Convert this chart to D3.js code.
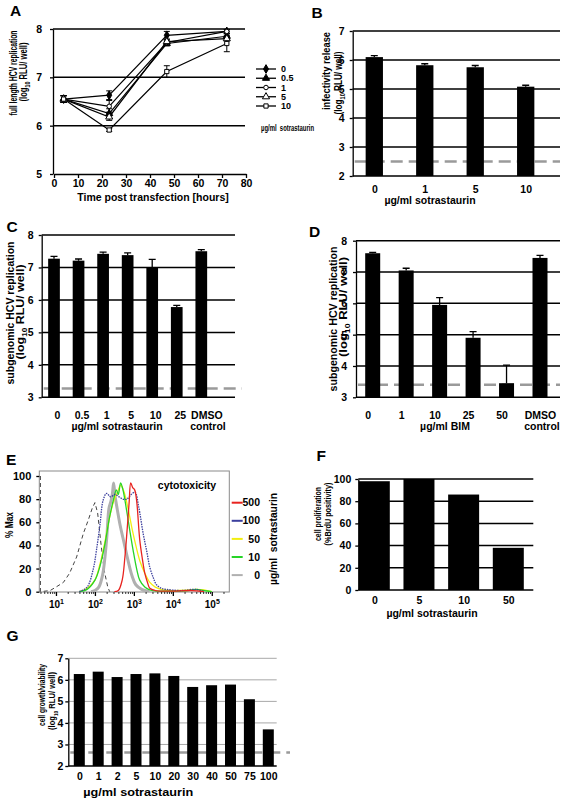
<!DOCTYPE html>
<html><head><meta charset="utf-8">
<script src="https://cdn.jsdelivr.net/npm/d3@7/dist/d3.min.js"></script>
<style>
body{margin:0;background:#fff}
svg{display:block}
text{font-family:"Liberation Sans",Arial,sans-serif;font-weight:bold;fill:#000;font-size:10.5px}
</style></head>
<body><svg id="chart" width="563" height="800"></svg>
<script>
// ---------- Panel A data ----------
const aHours = [4, 23, 47, 72];
const aDoses = ["0", "0.5", "1", "5", "10"];
const aDose0 = [6.55, 6.63, 7.87, 7.95];
const aDose05 = [6.55, 6.25, 7.70, 7.85];
const aDose1 = [6.55, 6.40, 7.72, 7.95];
const aDose5 = [6.55, 6.18, 7.74, 7.80];
const aDose10 = [6.55, 5.91, 7.12, 7.70];
const aErr0 = [0.07, 0.09, 0.08, 0.04];
const aErr05 = [0.07, 0.10, 0.05, 0.05];
const aErr1 = [0.07, 0.12, 0.05, 0.04];
const aErr5 = [0.07, 0.07, 0.05, 0.05];
const aErr10 = [0.07, 0.03, 0.12, 0.17];
const aYTicks = [5, 6, 7, 8];
const aXTicks = [0, 10, 20, 30, 40, 50, 60, 70, 80];

// ---------- Panel B data ----------
const bCats = ["0", "1", "5", "10"];
const bVals = [6.10, 5.82, 5.75, 5.08];
const bErrs = [0.05, 0.05, 0.06, 0.05];
const bTicks = [2, 3, 4, 5, 6, 7];
const bLimit = 2.5;

// ---------- Panel C data ----------
const cCats = ["0", "0.5", "1", "5", "10", "25", "DMSO"];
const cVals = [7.27, 7.21, 7.42, 7.38, 7.00, 5.78, 7.50];
const cErrs = [0.07, 0.05, 0.05, 0.07, 0.25, 0.05, 0.05];
const cTicks = [3, 4, 5, 6, 7, 8];
const cLimit = 3.27;

// ---------- Panel D data ----------
const dCats = ["0", "1", "10", "25", "50", "DMSO"];
const dVals = [7.60, 7.05, 5.95, 4.90, 3.45, 7.45];
const dErrs = [0.03, 0.07, 0.23, 0.20, 0.58, 0.08];
const dTicks = [3, 4, 5, 6, 7, 8];
const dLimit = 3.4;

// ---------- Panel E data (log10 fluorescence, % of max) ----------
const eDoses = ["500", "100", "50", "10", "0"];
const eColors = ["#e8231f", "#3b3f9e", "#f2ee10", "#27d427", "#b0b0b0"];
const eUnstLog = [0.60, 0.60, 0.85, 1.00, 1.19, 1.35, 1.53, 1.70, 1.83, 1.93, 2.00, 2.07, 2.16, 2.24, 2.33, 2.38];
const eUnstPct = [100, 0, 1, 4, 8, 16, 30, 50, 62, 72, 77, 68, 40, 18, 4, 0];
const e0Log = [1.90, 2.00, 2.10, 2.20, 2.30, 2.36, 2.41, 2.45, 2.48, 2.52, 2.58, 2.65, 2.75, 2.85, 2.95, 3.05, 3.20, 3.40];
const e0Pct = [0, 1, 4, 15, 45, 72, 78, 85, 94, 82, 70, 57, 42, 27, 14, 6, 2, 0];
const e10Log = [1.60, 1.80, 2.00, 2.13, 2.25, 2.38, 2.48, 2.55, 2.60, 2.66, 2.72, 2.81, 2.90, 2.98, 3.07, 3.15, 3.28, 3.41, 3.60, 4.00, 4.40, 4.60, 4.80, 5.00];
const e10Pct = [0, 2, 10, 22, 40, 65, 80, 88, 84, 94, 88, 71, 52, 36, 20, 10, 4, 1.5, 0.5, 0.5, 1, 2, 1, 0];
const e50Log = [1.60, 1.80, 2.00, 2.13, 2.25, 2.40, 2.50, 2.58, 2.66, 2.75, 2.85, 2.95, 3.05, 3.15, 3.28, 3.41, 3.55, 3.70, 4.00, 4.40, 4.60, 4.80, 5.00];
const e50Pct = [0, 3, 10, 24, 42, 68, 80, 86, 92, 86, 72, 55, 40, 27, 16, 8, 4, 2, 1, 1.5, 2, 1.5, 0];
const e100Log = [1.60, 1.80, 1.96, 2.04, 2.13, 2.21, 2.30, 2.40, 2.51, 2.62, 2.72, 2.82, 2.93, 3.03, 3.12, 3.24, 3.33, 3.41, 3.50, 3.58, 3.70, 3.84, 4.20, 4.60, 4.80];
const e100Pct = [0, 4, 20, 36, 58, 79, 85, 82, 84, 82, 80, 80, 84, 86, 74, 50, 35, 21, 12, 6, 3, 2, 1, 2, 0];
const e500Log = [2.50, 2.60, 2.70, 2.77, 2.83, 2.88, 2.92, 2.97, 3.02, 3.07, 3.15, 3.22, 3.28, 3.35, 3.41, 3.55, 3.70, 4.00, 4.50, 4.80];
const e500Pct = [0, 1, 10, 30, 55, 78, 94, 90, 88, 79, 45, 28, 16, 8, 3, 1, 0.5, 0.5, 1, 0];
const eYTicks = [0, 20, 40, 60, 80, 100];
const eXDecades = [1, 2, 3, 4, 5];

// ---------- Panel F data ----------
const fCats = ["0", "5", "10", "50"];
const fVals = [98, 100, 86, 38];
const fTicks = [0, 20, 40, 60, 80, 100];

// ---------- Panel G data ----------
const gCats = ["0", "1", "2", "5", "10", "20", "30", "40", "50", "75", "100"];
const gVals = [6.27, 6.38, 6.13, 6.27, 6.30, 6.18, 5.67, 5.75, 5.78, 5.10, 3.70];
const gTicks = [2, 3, 4, 5, 6, 7];
const gLimit = 2.63;

// ================= drawing =================
const svg = d3.select("#chart");

function letter(t, x, y) {
  svg.append("text").attr("x", x).attr("y", y).style("font-size", "15.5px").text(t);
}
function logLabel(t, sub) {
  t.append("tspan").text("(log");
  t.append("tspan").style("font-size", sub + "px").attr("dy", 3).text("10");
  t.append("tspan").attr("dy", -3).text(" RLU/ well)");
}
function vText(cx, cy, content, len, fs) {
  const size = fs || 10.5;
  const t = svg.append("text")
    .attr("transform", `translate(${cx},${cy}) rotate(-90)`)
    .attr("text-anchor", "middle").attr("dy", "0.35em").style("font-size", size + "px");
  if (content === "LOG") logLabel(t, Math.round(size * 0.68)); else t.text(content);
  if (len) t.attr("textLength", len).attr("lengthAdjust", "spacingAndGlyphs");
  return t;
}
function hText(x, y, s, anchor, len) {
  const t = svg.append("text").attr("x", x).attr("y", y).attr("dy", "0.35em")
    .attr("text-anchor", anchor || "middle").style("white-space", "pre").text(s);
  if (len) t.attr("textLength", len).attr("lengthAdjust", "spacingAndGlyphs");
  return t;
}
function styleAxis(g) {
  g.selectAll(".domain, .tick line").attr("stroke", "#000").attr("stroke-width", 1.3);
  g.attr("font-size", null).attr("font-family", null);
}

function barPanel(c) {
  const y = d3.scaleLinear().domain(c.domain).range([c.bottom, c.top]);
  const x = d3.scalePoint().domain(c.cats).range([c.c0, c.c1]);
  const g = svg.append("g");
  g.selectAll("line.grid").data(c.ticks.slice(1)).join("line").attr("class", "grid")
    .attr("x1", c.left).attr("x2", c.right)
    .attr("y1", d => y(d)).attr("y2", d => y(d))
    .attr("stroke", c.gridColor || "#000").attr("stroke-width", c.gridWidth || 1.5);
  if (c.limit !== undefined) {
    g.append("line").attr("x1", c.left + 2).attr("x2", c.dashEnd)
      .attr("y1", y(c.limit)).attr("y2", y(c.limit))
      .attr("stroke", "#9a9a9a").attr("stroke-width", 2.6).attr("stroke-dasharray", "12,6");
  }
  g.selectAll("rect").data(c.vals).join("rect")
    .attr("x", (d, i) => x(c.cats[i]) - c.bw / 2).attr("width", c.bw)
    .attr("y", d => y(d)).attr("height", d => y(c.domain[0]) - y(d)).attr("fill", "#000");
  if (c.errs) {
    g.selectAll("path.err").data(c.vals).join("path").attr("class", "err")
      .attr("d", (d, i) => {
        const cx = x(c.cats[i]), t = y(d + c.errs[i]);
        return `M${cx},${y(d)}V${t}M${cx - 3.5},${t}H${cx + 3.5}`;
      })
      .attr("stroke", "#000").attr("stroke-width", 1.3).attr("fill", "none");
  }
  const ya = g.append("g").attr("transform", `translate(${c.left},0)`)
    .call(d3.axisLeft(y).tickValues(c.ticks).tickSize(3).tickSizeOuter(0).tickPadding(c.ypad).tickFormat(d3.format("d")));
  styleAxis(ya);
  g.append("line").attr("x1", c.left).attr("x2", c.right).attr("y1", c.bottom).attr("y2", c.bottom)
    .attr("stroke", "#000").attr("stroke-width", 1.5);
  const xa = g.append("g").attr("transform", `translate(${c.xshift || 0},${c.bottom})`)
    .call(d3.axisBottom(x).tickSize(0).tickPadding(c.xpad));
  xa.select(".domain").remove();
  styleAxis(xa);
  if (c.lastShift) xa.selectAll(".tick text").filter(d => d === "DMSO").attr("dx", c.lastShift);
  return { x, y };
}

// ----- Panel A -----
letter("A", 10, 15.5);
{
  const x = d3.scaleLinear().domain([0, 80]).range([54, 246]);
  const y = d3.scaleLinear().domain([5, 8]).range([174, 29]);
  const g = svg.append("g");
  g.selectAll("line.grid").data(aYTicks.slice(1)).join("line")
    .attr("x1", 53).attr("x2", 245).attr("y1", d => y(d)).attr("y2", d => y(d))
    .attr("stroke", "#000").attr("stroke-width", 1.5);
  const ya = g.append("g").attr("transform", "translate(53,0)")
    .call(d3.axisLeft(y).tickValues(aYTicks).tickSize(3).tickSizeOuter(0).tickPadding(8).tickFormat(d3.format("d")));
  styleAxis(ya);
  const xa = g.append("g").attr("transform", "translate(0,174)")
    .call(d3.axisBottom(x).tickValues(aXTicks).tickSize(4).tickSizeOuter(0).tickPadding(2));
  styleAxis(xa);
  const series = [
    { vals: aDose0, errs: aErr0, sym: d3.symbolDiamond, fill: "#000", size: 22 },
    { vals: aDose05, errs: aErr05, sym: d3.symbolTriangle, fill: "#000", size: 22 },
    { vals: aDose1, errs: aErr1, sym: d3.symbolCircle, fill: "#fff", size: 16 },
    { vals: aDose5, errs: aErr5, sym: d3.symbolTriangle, fill: "#fff", size: 22 },
    { vals: aDose10, errs: aErr10, sym: d3.symbolSquare, fill: "#fff", size: 18 }
  ];
  const line = d3.line().x((d, i) => x(aHours[i])).y(d => y(d));
  series.forEach(s => {
    g.append("path").attr("d", line(s.vals)).attr("fill", "none").attr("stroke", "#000").attr("stroke-width", 1.2);
  });
  series.forEach(s => {
    g.selectAll(null).data(s.vals).join("path")
      .attr("d", (d, i) => {
        const cx = x(aHours[i]), t = y(d + s.errs[i]), b = y(d - s.errs[i]);
        return `M${cx},${b}V${t}M${cx - 3},${t}H${cx + 3}M${cx - 3},${b}H${cx + 3}`;
      }).attr("stroke", "#000").attr("stroke-width", 1).attr("fill", "none");
  });
  series.forEach(s => {
    g.selectAll(null).data(s.vals).join("path")
      .attr("transform", (d, i) => `translate(${x(aHours[i])},${y(d)})`)
      .attr("d", d3.symbol().type(s.sym).size(s.size))
      .attr("fill", s.fill).attr("stroke", "#000").attr("stroke-width", 1);
  });
  // legend
  series.forEach((s, i) => {
    const ly = 69 + i * 9.25;
    g.append("line").attr("x1", 256).attr("x2", 276).attr("y1", ly).attr("y2", ly).attr("stroke", "#000").attr("stroke-width", 1.3);
    g.append("path").attr("transform", `translate(266,${ly})`).attr("d", d3.symbol().type(s.sym).size(s.size))
      .attr("fill", s.fill).attr("stroke", "#000").attr("stroke-width", 1);
    hText(281, ly, aDoses[i], "start").style("font-size", "9px");
  });
  hText(261, 128, "µg/ml  sotrastaurin", "start", 53).style("font-size", "9.5px");
  hText(153, 197, "Time post transfection [hours]");
  vText(13, 73, "full length HCV replication", 85, 10);
  vText(23, 72, "LOG", 59, 10);
}

// ----- Panel B -----
letter("B", 311.5, 18);
barPanel({ cats: bCats, vals: bVals, errs: bErrs, ticks: bTicks, domain: [2, 7],
  left: 352.7, right: 560, top: 31, bottom: 176, c0: 374.3, c1: 525.7, bw: 17.3,
  limit: bLimit, dashEnd: 560, ypad: 5, xpad: 10 });
hText(430, 200.5, "µg/ml sotrastaurin");
vText(326, 71, "infectivity release", 78, 10);
vText(338, 83, "LOG", 63, 10);

// ----- Panel C -----
letter("C", 6.5, 231.5);
barPanel({ cats: cCats, vals: cVals, errs: cErrs, ticks: cTicks, domain: [3, 8],
  left: 41.7, right: 235, top: 235, bottom: 397.3, c0: 54, c1: 201.3, bw: 11.7,
  limit: cLimit, dashEnd: 242, ypad: 5, xpad: 14, xshift: 3, lastShift: 2 });
hText(117, 426, "µg/ml sotrastaurin");
hText(208, 426, "control");
vText(10, 313, "subgenomic HCV replication", 143);
vText(20, 312, "LOG", 95);

// ----- Panel D -----
letter("D", 309, 237.3);
barPanel({ cats: dCats, vals: dVals, errs: dErrs, ticks: dTicks, domain: [3, 8],
  left: 356, right: 560, top: 240.7, bottom: 397.3, c0: 372.7, c1: 540, bw: 15,
  limit: dLimit, dashEnd: 560, ypad: 6, xpad: 14, xshift: -5, lastShift: 5 });
hText(445, 426, "µg/ml BIM");
hText(542, 426, "control");
vText(333.5, 319, "subgenomic HCV replication", 145);
vText(343, 307, "LOG", 100);

// ----- Panel E -----
letter("E", 6, 465);
{
  const L = 39.3, R = 229.3, T = 471, B = 592;
  const x = d3.scaleLog().domain([Math.pow(10, 0.572), Math.pow(10, 5.45)]).range([L, R]);
  const y = d3.scaleLinear().domain([0, 100]).range([591.7, 476]);
  const g = svg.append("g");
  g.append("clipPath").attr("id", "eclip").append("rect").attr("x", L).attr("y", T).attr("width", R - L).attr("height", B - T);
  g.append("rect").attr("x", L).attr("y", T).attr("width", R - L).attr("height", B - T)
    .attr("fill", "none").attr("stroke", "#8a8a8a").attr("stroke-width", 1);
  const ya = g.append("g").attr("transform", `translate(${L},0)`)
    .call(d3.axisLeft(y).tickValues(eYTicks).tickSize(3).tickSizeOuter(0).tickPadding(5));
  ya.select(".domain").remove();
  styleAxis(ya);
  ya.selectAll("text").style("font-size", "11px");
  const minor = [];
  for (let p = 0; p <= 5; p++) for (let k = 2; k <= 9; k++) {
    const v = k * Math.pow(10, p);
    if (v > x.domain()[0] && v < x.domain()[1]) minor.push(v);
  }
  const xm = g.append("g").attr("transform", `translate(0,${B})`)
    .call(d3.axisBottom(x).tickValues(minor).tickSize(2).tickFormat(""));
  xm.select(".domain").remove();
  styleAxis(xm);
  xm.selectAll(".tick line").attr("stroke-width", 0.8);
  const xa = g.append("g").attr("transform", `translate(0,${B})`)
    .call(d3.axisBottom(x).tickValues(eXDecades.map(p => Math.pow(10, p))).tickSize(4).tickPadding(5).tickFormat(""));
  xa.select(".domain").remove();
  styleAxis(xa);
  xa.selectAll(".tick text").each(function(d, i) {
    const t = d3.select(this);
    t.append("tspan").text("10");
    t.append("tspan").attr("dy", -4).style("font-size", "7px").text(String(eXDecades[i]));
  }).style("font-size", "10px");

  const curve = (lg, pc) => lg.map((v, i) => [Math.pow(10, v), pc[i]]);
  const smooth = d3.line().x(d => x(d[0])).y(d => y(d[1])).curve(d3.curveCatmullRom.alpha(0.5));
  const straight = d3.line().x(d => x(d[0])).y(d => y(d[1]));
  const cg = g.append("g").attr("clip-path", "url(#eclip)");
  cg.append("path").attr("d", straight(curve(eUnstLog, eUnstPct))).attr("fill", "none")
    .attr("stroke", "#444").attr("stroke-width", 1).attr("stroke-dasharray", "4,3");
  cg.append("path").attr("d", smooth(curve(e0Log, e0Pct))).attr("fill", "none")
    .attr("stroke", eColors[4]).attr("stroke-width", 3);
  cg.append("path").attr("d", smooth(curve(e50Log, e50Pct))).attr("fill", "none")
    .attr("stroke", eColors[2]).attr("stroke-width", 1.3);
  cg.append("path").attr("d", smooth(curve(e10Log, e10Pct))).attr("fill", "none")
    .attr("stroke", eColors[3]).attr("stroke-width", 1.3);
  cg.append("path").attr("d", smooth(curve(e100Log, e100Pct))).attr("fill", "none")
    .attr("stroke", eColors[1]).attr("stroke-width", 1.3).attr("stroke-dasharray", "1.5,1");
  cg.append("path").attr("d", smooth(curve(e500Log, e500Pct))).attr("fill", "none")
    .attr("stroke", eColors[0]).attr("stroke-width", 1.3);
  hText(187, 485, "cytotoxicity");
  eDoses.forEach((d, i) => {
    const ly = 502.7 + i * 18.1;
    g.append("line").attr("x1", 231.7).attr("x2", 242.7).attr("y1", ly).attr("y2", ly)
      .attr("stroke", eColors[i]).attr("stroke-width", 2);
    hText(260, ly, d, "end");
  });
  vText(273, 539, "µg/ml  sotrastaurin", 92).style("white-space", "pre");
  vText(9, 525, "% Max", 26);
}

// ----- Panel F -----
letter("F", 316.5, 460.7);
barPanel({ cats: fCats, vals: fVals, ticks: fTicks, domain: [0, 100],
  left: 358.3, right: 533.3, top: 479, bottom: 590, c0: 374.3, c1: 508.3, bw: 31,
  ypad: 4, xpad: 7 });
hText(432, 613, "µg/ml sotrastaurin");
vText(318, 514, "cell proliferation", 54, 9.5);
vText(327.5, 514, "(%BrdU positivity)", 63, 9.5);

// ----- Panel G -----
letter("G", 6.5, 640.7);
barPanel({ cats: gCats, vals: gVals, ticks: gTicks, domain: [2, 7],
  left: 68.3, right: 276.7, top: 658.3, bottom: 766, c0: 79.3, c1: 268.3, bw: 11,
  gridColor: "#a8a8a8", gridWidth: 1, limit: gLimit, dashEnd: 290, ypad: 2, xpad: 7 });
hText(138.3, 791.7, "µg/ml sotrastaurin", "middle", 110).style("font-size", "11.5px");
vText(41.5, 695, "cell growth/viability", 62, 9.5);
vText(51.5, 701, "LOG", 58, 9.5);
</script>
</body></html>
